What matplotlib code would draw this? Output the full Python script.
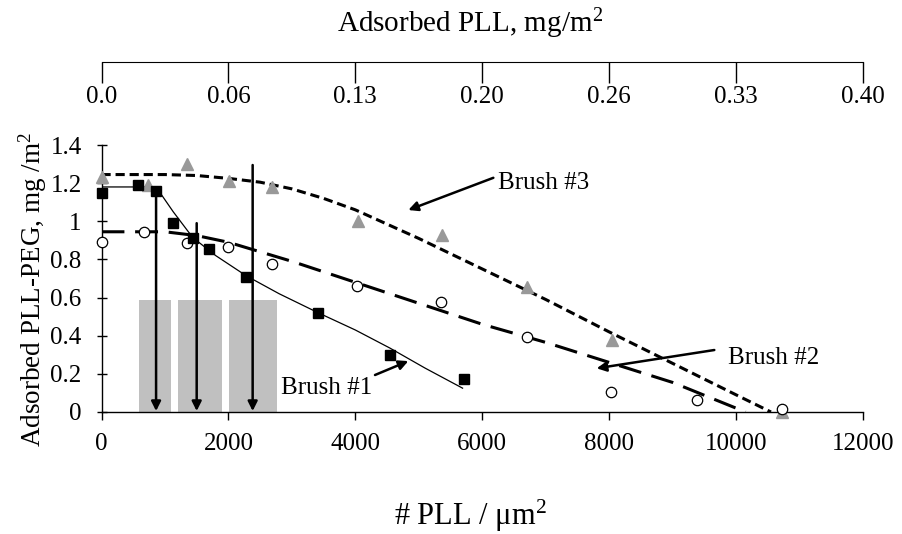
import matplotlib
matplotlib.use("Agg")
import matplotlib.pyplot as plt

plt.rcParams['font.family'] = ['Liberation Serif', 'DejaVu Serif']
plt.rcParams['mathtext.fontset'] = 'custom'
plt.rcParams['mathtext.rm'] = 'Liberation Serif'

# ---- data ----
b1_x = [0, 570, 860, 1130, 1437, 1700, 2277, 3417, 4546, 5717]
b1_y = [1.15, 1.19, 1.16, 0.99, 0.91, 0.853, 0.709, 0.52, 0.30, 0.171]
b1_fit_x = [0, 860, 1130, 1437, 1800, 2277, 2800, 3417, 4000, 4546, 5100, 5690]
b1_fit_y = [1.18, 1.18, 1.05, 0.915, 0.82, 0.715, 0.62, 0.52, 0.43, 0.335, 0.23, 0.125]

b2_x = [0, 675, 1342, 1999, 2682, 4021, 5350, 6700, 8029, 9379, 10718]
b2_y = [0.893, 0.945, 0.888, 0.863, 0.776, 0.661, 0.577, 0.395, 0.106, 0.063, 0.014]
b2_fit_x = [0, 1000, 1500, 2000, 2500, 3000, 4000, 5000, 6000, 7000, 8000, 9000, 10150]
b2_fit_y = [0.945, 0.945, 0.925, 0.89, 0.84, 0.79, 0.68, 0.57, 0.46, 0.365, 0.26, 0.155, 0.0]

b3_x = [0, 730, 1352, 2014, 2682, 4037, 5360, 6700, 8050, 10718]
b3_y = [1.234, 1.19, 1.30, 1.213, 1.181, 1.001, 0.928, 0.657, 0.377, 0.0]
b3_fit_x = [0, 1000, 1500, 2000, 2500, 3000, 3500, 4000, 5000, 6000, 7000, 8000, 9000, 10000, 10550]
b3_fit_y = [1.245, 1.245, 1.24, 1.225, 1.205, 1.17, 1.12, 1.06, 0.91, 0.75, 0.59, 0.42, 0.255, 0.09, 0.0]

bar_left = [596, 1205, 2009]
bar_width = [494, 689, 752]
bar_height = [0.585, 0.585, 0.585]

vline_x = [860, 1500, 2382]
vline_top = [1.16, 0.99, 1.295]

x_ticks = [0, 2000, 4000, 6000, 8000, 10000, 12000]
x_labels = ['0', '2000', '4000', '6000', '8000', '10000', '12000']
y_ticks = [0, 0.2, 0.4, 0.6, 0.8, 1.0, 1.2, 1.4]
y_labels = ['0', '0.2', '0.4', '0.6', '0.8', '1', '1.2', '1.4']
top_labels = ['0.0', '0.06', '0.13', '0.20', '0.26', '0.33', '0.40']

# annotations: (text, text_x, text_y, arrow_start_x, arrow_start_y, tip_x, tip_y)
annots = [
    ('Brush #3', 6252, 1.20, 6175, 1.228, 4835, 1.059),
    ('Brush #2', 9877, 0.283, 9657, 0.325, 7803, 0.229),
    ('Brush #1', 2823, 0.124, 4310, 0.194, 4835, 0.267),
]

W, H = 902, 534
fig = plt.figure(figsize=(W / 100, H / 100), dpi=100)
L, R, T, B = 101.5, 863, 145, 412
ax = fig.add_axes([L / W, 1 - B / H, (R - L) / W, (B - T) / H])
ax.set_xlim(0, 12000)
ax.set_ylim(0, 1.4)

ax.bar(bar_left, bar_height, width=bar_width, align='edge', color='#c0c0c0', zorder=1)

ax.plot(b3_fit_x, b3_fit_y, color='black', lw=2.2, dashes=(3.0, 1.6), zorder=3)
ax.plot(b2_fit_x, b2_fit_y, color='black', lw=2.2, dashes=(7.5, 3.5), zorder=3)
ax.plot(b1_fit_x, b1_fit_y, color='black', lw=0.9, zorder=3)

for xv, yt in zip(vline_x, vline_top):
    ax.annotate('', xy=(xv, 0.005), xytext=(xv, yt),
                arrowprops=dict(arrowstyle='-|>', lw=1.8, color='black',
                                mutation_scale=14, shrinkA=0, shrinkB=0), zorder=4)

ax.plot(b3_x, b3_y, linestyle='none', marker='^', markersize=9, color='#999999',
        markeredgecolor='#999999', zorder=5, clip_on=False)
ax.plot(b2_x, b2_y, linestyle='none', marker='o', markersize=7.5, markerfacecolor='white',
        markeredgecolor='black', markeredgewidth=0.9, zorder=6, clip_on=False)
ax.plot(b1_x, b1_y, linestyle='none', marker='s', markersize=7.5, color='black', zorder=7,
        clip_on=False)

for txt, tx, ty, sx, sy, px, py in annots:
    ax.text(tx, ty, txt, fontsize=18, va='center', ha='left')
    ax.annotate('', xy=(px, py), xytext=(sx, sy),
                arrowprops=dict(arrowstyle='-|>', lw=1.8, color='black',
                                mutation_scale=14, shrinkA=0, shrinkB=0), zorder=8)

for s in ['top', 'right']:
    ax.spines[s].set_visible(False)
for s in ['left', 'bottom']:
    ax.spines[s].set_linewidth(1.0)
ax.set_xticks(x_ticks)
ax.set_xticklabels(x_labels)
ax.set_yticks(y_ticks)
ax.set_yticklabels(y_labels)
ax.tick_params(axis='x', direction='out', length=6, width=1, pad=9, labelsize=18)
ax.tick_params(axis='y', direction='inout', length=6.5, width=1, pad=11, labelsize=18)

# top secondary axis (line at y=62 px)
ytop = 62
ax2 = fig.add_axes([L / W, 1 - ytop / H, (R - L) / W, 0.001])
ax2.set_xlim(0, 12000)
ax2.set_yticks([])
for s in ['top', 'right', 'left']:
    ax2.spines[s].set_visible(False)
ax2.patch.set_visible(False)
ax2.set_xticks(x_ticks)
ax2.set_xticklabels(top_labels)
ax2.tick_params(axis='x', direction='out', length=15, width=1, pad=2.5, labelsize=18)

fig.text(470 / W, 1 - 24 / H, r'Adsorbed PLL, mg/m$\mathregular{^2}$', fontsize=21,
         ha='center', va='center')
fig.text(470 / W, 1 - 516 / H, r'# PLL / μm$\mathregular{^2}$', fontsize=22,
         ha='center', va='center')
fig.text(33 / W, 1 - 289 / H, r'Adsorbed PLL-PEG, mg /m$\mathregular{^2}$', fontsize=19.5,
         ha='center', va='center', rotation=90)

fig.savefig('out.png', dpi=100)
